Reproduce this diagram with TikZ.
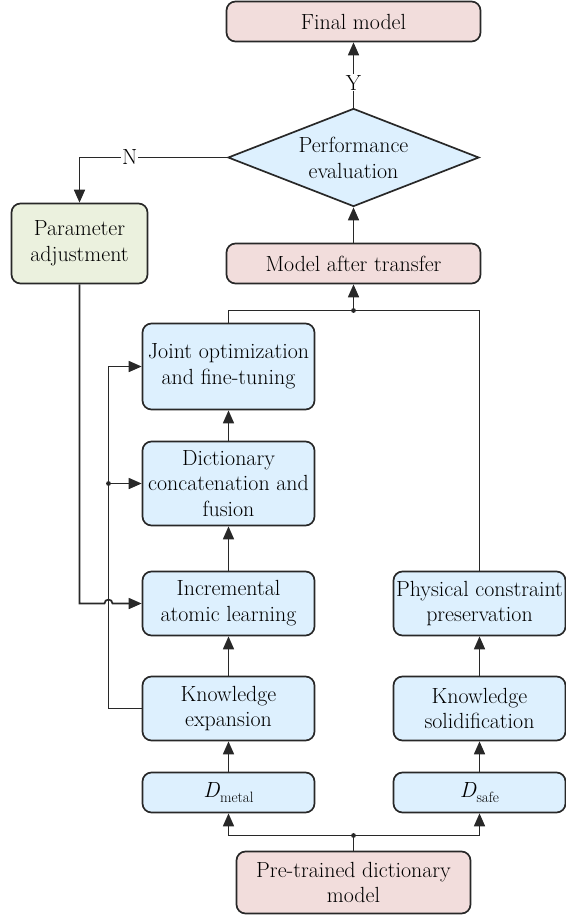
\documentclass[tikz,border=0pt]{standalone}
\usetikzlibrary{arrows.meta,shapes.geometric}
\definecolor{pinkf}{RGB}{242,221,220}
\definecolor{bluef}{RGB}{221,240,254}
\definecolor{greenf}{RGB}{235,241,222}
\definecolor{edge}{RGB}{40,40,40}
\begin{document}
\begin{tikzpicture}[x=1bp,y=-1bp,
  every node/.style={font=\rmfamily\fontsize{22}{26}\selectfont, align=center, text=black},
  box/.style={draw=edge, line width=1.7bp, rounded corners=9bp, inner sep=1bp},
  pinkbox/.style={box, fill=pinkf},
  bluebox/.style={box, fill=bluef},
  greenbox/.style={box, fill=greenf},
  arr/.style={draw=edge, line width=1.7bp, -{Triangle[width=11bp,length=13bp]}},
  ln/.style={draw=edge, line width=1.7bp},
  lbl/.style={fill=white, inner sep=1bp}]
\useasboundingbox (0,0) rectangle (566,918);

\node[pinkbox, minimum width=254bp, minimum height=40bp] (final) at (353.5,21.5) {Final model};
\node[diamond, draw=edge, line width=1.7bp, fill=bluef, aspect=2.5, inner sep=0bp,
      minimum width=251bp, minimum height=98bp] (perf) at (353.5,157.5) {Performance\\evaluation};
\node[pinkbox, minimum width=254bp, minimum height=40bp] (model) at (353.5,263.5) {Model after transfer};
\node[greenbox, minimum width=136bp, minimum height=80bp] (param) at (79.5,243.5) {Parameter\\adjustment};

\node[bluebox, minimum width=172bp, minimum height=86bp] (joint) at (228.5,366.5) {Joint optimization\\and fine-tuning};
\node[bluebox, minimum width=172bp, minimum height=84bp] (dict) at (228.5,483.5) {Dictionary\\concatenation and\\fusion};
\node[bluebox, minimum width=172bp, minimum height=64bp] (incr) at (228.5,603.5) {Incremental\\atomic learning};
\node[bluebox, minimum width=172bp, minimum height=64bp] (kexp) at (228.5,708.5) {Knowledge\\expansion};
\node[bluebox, minimum width=172bp, minimum height=40bp] (dmetal) at (228.5,792.5)
  {\textit{D}\raisebox{-0.22em}{\fontsize{15}{15}\selectfont metal}};

\node[bluebox, minimum width=172bp, minimum height=64bp] (phys) at (479.5,603.5) {Physical constraint\\preservation};
\node[bluebox, minimum width=172bp, minimum height=64bp] (ksol) at (479.5,708.5) {Knowledge\\solidification};
\node[bluebox, minimum width=172bp, minimum height=40bp] (dsafe) at (479.5,792.5)
  {\textit{D}\raisebox{-0.22em}{\fontsize{15}{15}\selectfont safe}};

\node[pinkbox, minimum width=234bp, minimum height=62bp] (pre) at (353.5,882.5) {Pre-trained dictionary\\model};

% coordinates
\coordinate (jt) at (353.5,310.5);
\coordinate (jb) at (353.5,835.5);
\coordinate (busx) at (108.5,0);

% top part
\draw[arr] (perf.north) -- node[lbl, pos=0.38]{Y} (final.south);
\draw[arr] (perf.west) -| node[lbl, pos=0.33]{N} (param.north);
\draw[arr] (model.north) -- (perf.south);

% merge into model after transfer
\draw[ln] (joint.north) |- (jt) -| (phys.north);
\draw[arr] (jt) -- (model.south);
\fill[edge] (jt) circle (2.4bp);

% left column vertical arrows
\draw[arr] (dict.north) -- (joint.south);
\draw[arr] (incr.north) -- (dict.south);
\draw[arr] (kexp.north) -- (incr.south);
\draw[arr] (dmetal.north) -- (kexp.south);

% right column vertical arrows
\draw[arr] (dsafe.north) -- (ksol.south);
\draw[arr] (ksol.north) -- (phys.south);

% bottom split
\draw[ln] (pre.north) -- (jb);
\draw[arr] (jb) -| (dmetal.south);
\draw[arr] (jb) -| (dsafe.south);
\fill[edge] (jb) circle (2.4bp);

% left feedback lines
\draw[arr] (kexp.west) -| (busx |- joint.west) -- (joint.west);
\draw[arr] (busx |- dict.west) -- (dict.west);
\fill[edge] (busx |- dict.west) circle (2.4bp);
\draw[arr] (param.south) |- ([xshift=-4bp]busx |- incr.west) arc[start angle=180, end angle=0, radius=4bp] -- (incr.west);
\end{tikzpicture}
\end{document}
